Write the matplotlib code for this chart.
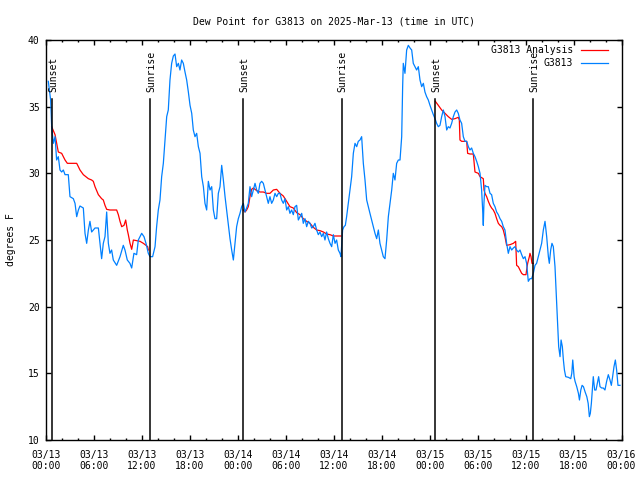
import numpy as np
import matplotlib
matplotlib.use('Agg')
import matplotlib.pyplot as plt
from matplotlib.ticker import MultipleLocator

# time axis: hours since 2025-03-13 00:00 UTC
tick_hours = [0, 6, 12, 18, 24, 30, 36, 42, 48, 54, 60, 66, 72]
tick_labels = ['03/13\n00:00', '03/13\n06:00', '03/13\n12:00', '03/13\n18:00',
               '03/14\n00:00', '03/14\n06:00', '03/14\n12:00', '03/14\n18:00',
               '03/15\n00:00', '03/15\n06:00', '03/15\n12:00', '03/15\n18:00',
               '03/16\n00:00']

sun_hours = [0.77, 13.03, 24.67, 36.97, 48.72, 60.98]
sun_labels = ['Sunset', 'Sunrise', 'Sunset', 'Sunrise', 'Sunset', 'Sunrise']

# G3813 station observations
obs_hours = [
    0.29, 0.58, 0.71, 0.92, 1.13, 1.33, 1.54, 1.75, 1.96, 2.17, 2.38, 2.79,
    3.0, 3.42, 3.63, 3.84, 4.05, 4.25, 4.67, 4.88, 5.09, 5.3, 5.5, 5.71,
    6.13, 6.55, 6.76, 6.96, 7.17, 7.38, 7.59, 7.8, 8.0, 8.21, 8.42, 8.84,
    9.26, 9.67, 9.88, 10.17, 10.5, 10.72, 11.0, 11.34, 11.55, 11.97, 12.26,
    12.51, 12.8, 13.01, 13.34, 13.64, 13.84, 14.05, 14.26, 14.47, 14.68,
    14.89, 15.1, 15.3, 15.51, 15.72, 15.93, 16.14, 16.35, 16.56, 16.76,
    16.97, 17.18, 17.39, 17.6, 17.81, 18.02, 18.23, 18.43, 18.64, 18.85,
    19.06, 19.27, 19.48, 19.69, 19.89, 20.1, 20.31, 20.52, 20.73, 20.94,
    21.14, 21.35, 21.56, 21.77, 21.98, 22.19, 22.4, 22.6, 22.81, 23.02,
    23.23, 23.44, 23.65, 23.85, 24.06, 24.27, 24.48, 24.69, 24.9, 25.1,
    25.31, 25.52, 25.73, 25.94, 26.15, 26.36, 26.56, 26.77, 26.98, 27.19,
    27.4, 27.61, 27.81, 28.02, 28.23, 28.44, 28.65, 28.86, 29.07, 29.27,
    29.48, 29.69, 29.9, 30.11, 30.32, 30.52, 30.73, 30.94, 31.15, 31.36,
    31.57, 31.78, 31.99, 32.19, 32.4, 32.61, 32.82, 33.03, 33.24, 33.44,
    33.65, 33.86, 34.07, 34.28, 34.49, 34.7, 34.9, 35.11, 35.32, 35.53,
    35.74, 35.95, 36.16, 36.36, 36.57, 36.78, 36.9, 37.11, 37.28, 37.45,
    37.61, 37.82, 38.03, 38.24, 38.45, 38.66, 38.87, 39.07, 39.28, 39.49,
    39.7, 39.91, 40.12, 40.32, 40.53, 40.74, 40.95, 41.16, 41.37, 41.58,
    41.78, 41.99, 42.2, 42.41, 42.62, 42.83, 43.04, 43.25, 43.45, 43.66,
    43.87, 44.08, 44.29, 44.5, 44.62, 44.7, 44.91, 45.12, 45.33, 45.54,
    45.75, 45.95, 46.16, 46.37, 46.58, 46.79, 47.0, 47.21, 47.41, 47.62,
    47.83, 48.04, 48.25, 48.46, 48.67, 48.87, 49.08, 49.29, 49.5, 49.71,
    49.92, 50.13, 50.33, 50.54, 50.75, 50.96, 51.17, 51.38, 51.58, 51.79,
    52.0, 52.21, 52.42, 52.63, 52.84, 53.04, 53.25, 53.46, 53.67, 53.88,
    54.09, 54.3, 54.5, 54.63, 54.71, 54.79, 54.92, 55.13, 55.34, 55.55,
    55.75, 55.96, 56.17, 56.38, 56.59, 56.8, 57.01, 57.21, 57.42, 57.63,
    57.84, 58.05, 58.26, 58.47, 58.67, 58.88, 59.09, 59.3, 59.51, 59.72,
    59.93, 60.13, 60.34, 60.55, 60.76, 60.97, 61.18, 61.38, 61.59, 61.8,
    62.01, 62.22, 62.43, 62.64, 62.85, 62.97, 63.14, 63.3, 63.47, 63.68,
    63.77, 63.89, 64.02, 64.14, 64.31, 64.44, 64.6, 64.73, 64.86, 65.02,
    65.36, 65.65, 65.78, 65.9, 66.07, 66.19, 66.4, 66.61, 66.74, 66.91,
    67.07, 67.24, 67.45, 67.66, 67.83, 67.98, 68.1, 68.23, 68.35, 68.47,
    68.64, 68.81, 68.98, 69.14, 69.31, 69.52, 69.72, 69.93, 70.14, 70.35,
    70.56, 70.73, 70.89, 71.06, 71.23, 71.39, 71.56, 71.81]
obs_dewpt = [
    36.9, 35.5, 33.5, 32.25, 32.75, 31.0, 31.25, 30.25, 30.1, 30.25, 29.9, 29.9,
    28.25, 28.1, 27.75, 26.75, 27.25, 27.55, 27.4, 25.5, 24.75, 25.75, 26.4, 25.6,
    25.9, 25.9, 24.75, 23.6, 24.75, 25.25, 27.1, 24.75, 24.0, 24.25, 23.5, 23.1,
    23.75, 24.6, 24.25, 23.5, 23.25, 22.9, 24.0, 23.9, 25.0, 25.5, 25.25,
    24.75, 24.0, 23.75, 23.75, 24.5, 26.0, 27.25, 28.0, 29.75, 30.75,
    32.5, 34.25, 34.75, 37.0, 38.25, 38.8, 38.95, 38.0, 38.25, 37.75,
    38.5, 38.25, 37.6, 37.0, 36.1, 35.1, 34.5, 33.25, 32.75, 33.0,
    32.0, 31.5, 29.75, 29.0, 27.75, 27.25, 29.4, 28.75, 29.0, 27.25,
    26.6, 26.6, 28.5, 29.0, 30.6, 29.5, 28.25, 27.25, 26.25, 25.1,
    24.25, 23.5, 24.75, 26.0, 26.6, 27.0, 27.5, 27.75, 27.1, 27.4,
    27.75, 29.0, 28.25, 28.75, 29.25, 28.75, 28.5, 29.25, 29.4, 29.25,
    28.75, 28.25, 27.75, 28.25, 27.75, 28.0, 28.5, 28.25, 28.5, 28.5,
    28.0, 27.75, 28.1, 27.25, 27.5, 27.0, 27.25, 26.9, 27.5, 27.6,
    26.5, 26.75, 27.0, 26.25, 26.6, 26.0, 26.4, 26.25, 25.9, 26.0,
    26.25, 25.75, 25.4, 25.6, 25.25, 25.5, 25.0, 25.6, 25.1, 24.75,
    24.5, 25.4, 24.75, 25.0, 24.25, 24.0, 23.75, 25.75, 26.0, 26.1,
    26.75, 27.75, 28.75, 29.75, 31.5, 32.25, 32.0, 32.4, 32.5, 32.75,
    30.75, 29.5, 28.0, 27.5, 27.0, 26.5, 26.0, 25.5, 25.1, 25.75,
    24.75, 24.25, 23.75, 23.6, 25.0, 26.75, 27.75, 28.75, 30.0, 29.5,
    30.75, 31.0, 31.0, 32.75, 36.5, 38.25, 37.5, 39.25, 39.6, 39.4,
    39.25, 38.25, 38.0, 37.75, 38.0, 37.0, 36.5, 36.75, 36.1, 35.75,
    35.5, 35.1, 34.75, 34.4, 34.1, 33.75, 33.5, 33.6, 34.25, 34.75,
    34.25, 33.25, 33.5, 33.4, 33.75, 34.25, 34.6, 34.75, 34.5, 34.0,
    33.75, 32.75, 32.4, 32.4, 32.0, 31.75, 31.9, 31.5, 31.25, 30.9,
    30.5, 30.0, 28.75, 27.25, 26.1, 27.75, 29.1, 29.0, 29.0, 28.5,
    28.4, 27.75, 27.5, 27.1, 26.9, 26.6, 26.4, 26.0, 25.75, 24.75,
    24.0, 24.5, 24.25, 24.4, 24.5, 24.25, 24.1, 24.25, 23.9, 23.6,
    23.75, 23.25, 21.9, 22.1, 22.1, 22.5, 23.1, 23.25, 23.75, 24.25,
    24.75, 25.75, 26.4, 25.25, 23.75, 23.25, 24.25, 24.75, 24.5, 23.0,
    21.75, 20.25, 18.5, 17.0, 16.25, 17.5, 17.0, 16.0, 15.25, 14.75,
    14.7, 14.6, 15.0, 16.0, 14.75, 14.4, 14.0, 13.5, 13.0, 13.75,
    14.1, 14.0, 13.6, 13.25, 12.75, 11.75, 12.0, 12.75, 13.75, 14.75,
    13.75, 13.75, 14.25, 14.75, 14.0, 13.9, 13.9, 13.75, 14.4, 14.9,
    14.5, 14.1, 14.75, 15.5, 16.0, 15.25, 14.1, 14.1]

# G3813 analysis, one stretch per night
ana1_hours = [0.71, 1.13, 1.54, 1.96, 2.38, 2.67, 3.21, 3.84, 4.05, 4.25, 4.67,
              5.3, 5.71, 5.92, 6.13, 6.55, 6.96, 7.17, 7.38, 7.59, 8.0, 8.84,
              9.05, 9.26, 9.47, 9.76, 9.97, 10.17, 10.3, 10.51, 10.72, 10.93,
              11.34, 11.76, 12.18, 12.51, 12.72, 12.8]
ana1_dewpt = [33.5, 32.9, 31.6, 31.5, 31.0, 30.75, 30.75, 30.75, 30.5, 30.25,
              29.9, 29.6, 29.5, 29.4, 29.0, 28.4, 28.1, 28.0, 27.6, 27.3, 27.25,
              27.25, 26.9, 26.4, 26.0, 26.1, 26.5, 25.75, 25.4, 24.75, 24.3,
              25.0, 24.95, 24.9, 24.75, 24.6, 24.5, 24.25]
ana2_hours = [24.69, 24.9, 25.1, 25.31, 25.52, 25.73, 25.94, 26.36, 26.77,
              27.19, 27.61, 28.02, 28.44, 28.86, 29.27, 29.69, 30.11, 30.52,
              30.94, 31.36, 31.78, 32.19, 32.61, 33.03, 33.44, 33.86, 34.28,
              34.7, 35.11, 35.53, 35.95, 36.36, 36.9]
ana2_dewpt = [27.25, 27.1, 27.25, 27.5, 28.25, 28.8, 28.9, 28.7, 28.6, 28.6,
              28.5, 28.5, 28.75, 28.8, 28.5, 28.3, 27.9, 27.5, 27.4, 27.05,
              26.9, 26.6, 26.4, 26.25, 25.95, 25.75, 25.7, 25.6, 25.45, 25.4,
              25.3, 25.3, 25.3]
ana3_hours = [48.71, 49.08, 49.5, 49.92, 50.33, 50.75, 51.17, 51.58, 51.71,
              51.79, 52.0, 52.63, 52.75, 53.04, 53.46, 53.67, 54.09, 54.3,
              54.71, 54.8, 54.92, 55.13, 55.34, 55.55, 55.75, 55.96, 56.17,
              56.38, 56.59, 56.8, 57.01, 57.21, 57.42, 57.63, 58.05, 58.47,
              58.76, 58.88, 59.09, 59.3, 59.51, 59.72, 60.05, 60.13, 60.26,
              60.47, 60.55, 60.68, 60.8, 60.97]
ana3_dewpt = [35.4, 35.1, 34.75, 34.5, 34.25, 34.05, 34.1, 34.2, 34.0, 32.5,
              32.4, 32.4, 31.5, 31.45, 31.45, 30.1, 30.0, 29.75, 29.6, 28.75,
              28.5, 28.25, 27.9, 27.6, 27.4, 27.25, 27.0, 26.6, 26.25, 26.1,
              26.0, 25.75, 25.25, 24.6, 24.65, 24.75, 24.9, 23.1, 23.0, 22.75,
              22.5, 22.4, 22.4, 22.75, 23.25, 23.75, 24.0, 23.75, 23.25, 23.25]

FONT = 'DejaVu Sans Mono'
FS = 7
RED = '#ff0000'
BLUE = '#0080ff'

plt.rcParams['font.family'] = FONT
plt.rcParams['font.size'] = FS

fig = plt.figure(figsize=(6.4, 4.8), dpi=100)
ax = fig.add_axes([46 / 640, 40 / 480, 575.5 / 640, 400 / 480])

ax.plot(ana1_hours, ana1_dewpt, color=RED, lw=0.9, label='G3813 Analysis')
ax.plot(ana2_hours, ana2_dewpt, color=RED, lw=0.9)
ax.plot(ana3_hours, ana3_dewpt, color=RED, lw=0.9)
ax.plot(obs_hours, obs_dewpt, color=BLUE, lw=0.9, label='G3813')

# sunrise / sunset markers
for h, lab in zip(sun_hours, sun_labels):
    ax.plot([h, h], [10, 35.55], color='black', lw=1.1)
    ax.text(h + 0.15, 36.1, lab, rotation=90, ha='center', va='bottom',
            fontsize=FS)

ax.set_xlim(0, 72)
ax.set_ylim(10, 40)
ax.set_xticks(tick_hours)
ax.set_xticklabels(tick_labels)
ax.xaxis.set_minor_locator(MultipleLocator(2))
ax.set_yticks([10, 15, 20, 25, 30, 35, 40])

ax.tick_params(which='both', direction='in', top=True, right=True, width=1)
ax.tick_params(which='major', length=3.3)
ax.tick_params(which='minor', length=1.6)
ax.tick_params(axis='x', pad=7)
ax.tick_params(axis='y', pad=4.5)
for s in ax.spines.values():
    s.set_linewidth(1)

ax.set_ylabel('degrees F')
ax.yaxis.set_label_coords(-0.052, 0.5)
ax.set_title('Dew Point for G3813 on 2025-Mar-13 (time in UTC)', pad=11.5,
             fontsize=FS)

leg = ax.legend(loc='upper right', bbox_to_anchor=(0.985, 0.999),
                frameon=False, markerfirst=False, borderpad=0,
                handlelength=2.8, handletextpad=0.8, labelspacing=0.3)

fig.savefig('out.png', dpi=100)
